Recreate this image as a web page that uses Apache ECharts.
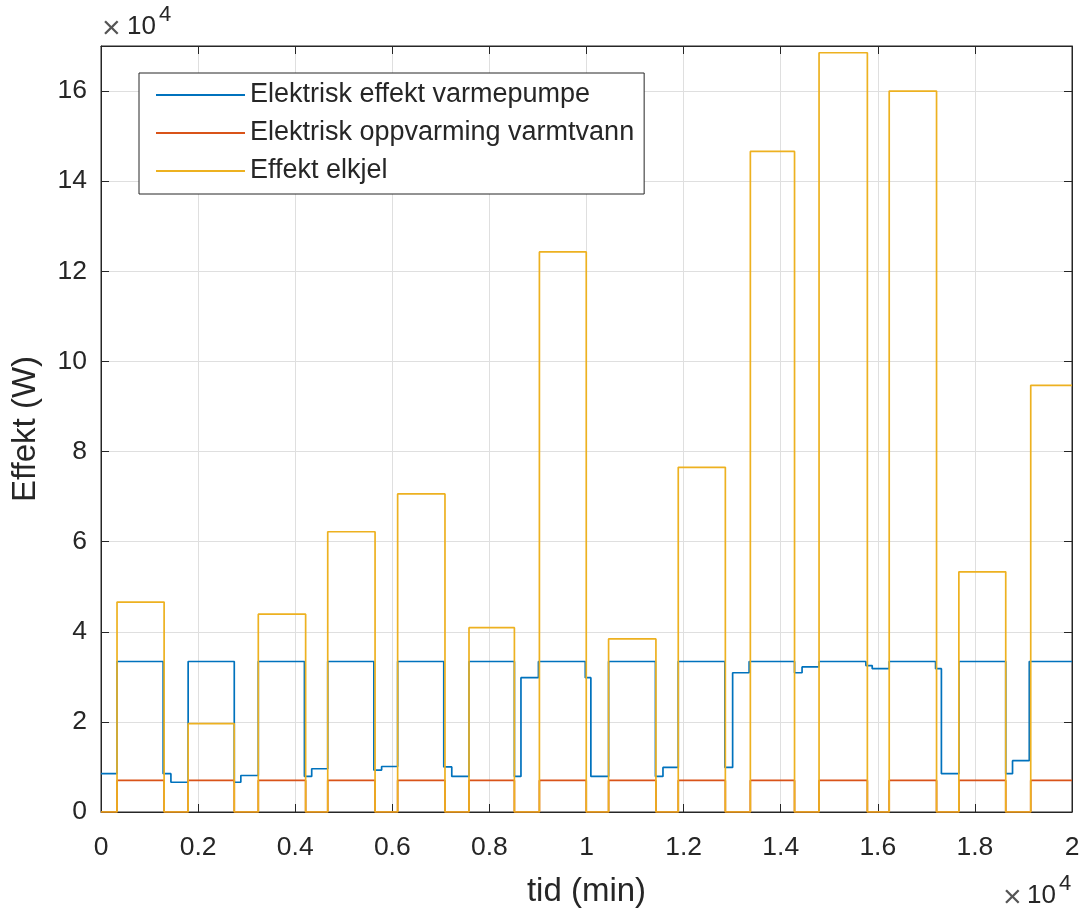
<!DOCTYPE html>
<html>
<head>
<meta charset="utf-8">
<script src="https://cdn.jsdelivr.net/npm/echarts@6/dist/echarts.min.js"></script>
<style>
html,body{margin:0;padding:0;background:#fff;}
#chart{width:1086px;height:913px;}
</style>
</head>
<body>
<div id="chart"></div>
<script>
// Series names
const seriesNames = ['Elektrisk effekt varmepumpe', 'Elektrisk oppvarming varmtvann', 'Effekt elkjel'];

// Elektrisk effekt varmepumpe (step, value holds from time to next time)
const pumpTimes = [0, 330, 1280, 1440, 1795, 2745, 2880, 3240, 4190, 4340, 4670, 5620, 5780, 6110, 7060, 7225, 7580, 8515, 8650, 9010, 9975, 10090, 10455, 11420, 11575, 11890, 12850, 13010, 13350, 14285, 14440, 14790, 15755, 15885, 16235, 17190, 17310, 17670, 18635, 18775, 19120, 20000];
const pumpValues = [8500, 33400, 8500, 6600, 33400, 6600, 8100, 33400, 7900, 9600, 33400, 9300, 10100, 33400, 10000, 7900, 33400, 7900, 29800, 33400, 29800, 7900, 33400, 7900, 9900, 33400, 9900, 30900, 33400, 30900, 32200, 33400, 32500, 31800, 33400, 31800, 8500, 33400, 8500, 11400, 33400, 33400];

// Elektrisk oppvarming varmtvann
const waterTimes = [0, 330, 1300, 1795, 2745, 3240, 4215, 4670, 5645, 6110, 7085, 7580, 8515, 9030, 9995, 10455, 11430, 11890, 12860, 13375, 14285, 14790, 15785, 16235, 17210, 17670, 18635, 19150, 20000];
const waterValues = [0, 7000, 0, 7000, 0, 7000, 0, 7000, 0, 7000, 0, 7000, 0, 7000, 0, 7000, 0, 7000, 0, 7000, 0, 7000, 0, 7000, 0, 7000, 0, 7000, 7000];

// Effekt elkjel
const boilerTimes = [0, 330, 1300, 1795, 2745, 3240, 4215, 4670, 5645, 6110, 7085, 7580, 8515, 9030, 9995, 10455, 11430, 11890, 12860, 13375, 14285, 14790, 15785, 16235, 17210, 17670, 18635, 19150, 20000];
const boilerValues = [0, 46600, 0, 19600, 0, 43900, 0, 62200, 0, 70600, 0, 40900, 0, 124300, 0, 38400, 0, 76500, 0, 146600, 0, 168500, 0, 160000, 0, 53300, 0, 94700, 94700];

// Axis settings
const xMin = 0, xMax = 20000, xStep = 2000;
const yMin = 0, yMax = 170000, yStep = 20000;
const axisScale = 10000; // labels shown as x10^4

const colors = ['#0072BD', '#D95319', '#EDB120'];
const FONT = '"Liberation Sans", Arial, Helvetica, sans-serif';
const TXT = '#262626';

function pairs(t, v) { return t.map((x, i) => [x, v[i]]); }

const chart = echarts.init(document.getElementById('chart'), null, {renderer: 'canvas'});

const gridLeft = 101, gridRight = 14, gridTop = 46, gridBottom = 100;

function fmt(v) {
  const r = Math.round(v / axisScale * 1000) / 1000;
  return String(r);
}

const option = {
  backgroundColor: '#ffffff',
  animation: false,
  textStyle: {fontFamily: FONT},
  grid: {left: gridLeft, right: gridRight, top: gridTop, bottom: gridBottom, show: true, borderColor: TXT, borderWidth: 1, backgroundColor: 'transparent'},
  legend: {
    orient: 'vertical',
    left: 139, top: 73,
    data: seriesNames,
    icon: 'rect',
    itemWidth: 89, itemHeight: 2,
    itemGap: 10,
    backgroundColor: '#ffffff',
    borderColor: TXT, borderWidth: 1,
    padding: [8, 10, 9, 17],
    textStyle: {fontSize: 27, color: TXT, fontFamily: FONT, lineHeight: 28, padding: [0, 0, 0, 0]},
    selectedMode: false
  },
  xAxis: [{
    type: 'value', min: xMin, max: xMax, interval: xStep,
    name: 'tid (min)', nameLocation: 'middle', nameGap: 63,
    nameTextStyle: {fontSize: 33, color: TXT, fontFamily: FONT},
    axisLine: {show: true, onZero: false, lineStyle: {color: TXT, width: 1}},
    axisTick: {show: true, inside: true, length: 8, lineStyle: {color: TXT}},
    axisLabel: {fontSize: 26.5, color: TXT, margin: 22, formatter: fmt, fontFamily: FONT},
    splitLine: {show: true, lineStyle: {color: '#dfdfdf', width: 1}}
  }, {
    type: 'value', min: xMin, max: xMax, interval: xStep, position: 'top',
    axisLine: {show: true, onZero: false, lineStyle: {color: TXT, width: 1}},
    axisTick: {show: true, inside: true, length: 8, lineStyle: {color: TXT}},
    axisLabel: {show: false}, splitLine: {show: false}
  }],
  yAxis: [{
    type: 'value', min: yMin, max: yMax, interval: yStep,
    name: 'Effekt (W)', nameLocation: 'middle', nameGap: 59,
    nameTextStyle: {fontSize: 33, color: TXT, fontFamily: FONT},
    axisLine: {show: true, onZero: false, lineStyle: {color: TXT, width: 1}},
    axisTick: {show: true, inside: true, length: 8, lineStyle: {color: TXT}},
    axisLabel: {fontSize: 26.5, color: TXT, margin: 14, formatter: fmt, showMaxLabel: false, fontFamily: FONT},
    splitLine: {show: true, lineStyle: {color: '#dfdfdf', width: 1}}
  }, {
    type: 'value', min: yMin, max: yMax, interval: yStep, position: 'right',
    axisLine: {show: true, onZero: false, lineStyle: {color: TXT, width: 1}},
    axisTick: {show: true, inside: true, length: 8, lineStyle: {color: TXT}},
    axisLabel: {show: false}, splitLine: {show: false}
  }],
  series: [
    {name: seriesNames[0], type: 'line', step: 'end', data: pairs(pumpTimes, pumpValues), showSymbol: false, symbol: 'none', lineStyle: {color: colors[0], width: 1.7}, itemStyle: {color: colors[0]}, z: 2},
    {name: seriesNames[1], type: 'line', step: 'end', data: pairs(waterTimes, waterValues), showSymbol: false, symbol: 'none', lineStyle: {color: colors[1], width: 1.7}, itemStyle: {color: colors[1]}, z: 3},
    {name: seriesNames[2], type: 'line', step: 'end', data: pairs(boilerTimes, boilerValues), showSymbol: false, symbol: 'none', lineStyle: {color: colors[2], width: 1.7}, itemStyle: {color: colors[2]}, z: 4}
  ],
  graphic: [
    {type: 'text', left: 102, top: 13, style: {text: '×', font: '32px ' + FONT, fill: '#555555'}},
    {type: 'text', left: 127, top: 14, style: {text: '10', font: '26px ' + FONT, fill: TXT}},
    {type: 'text', left: 159, top: 4, style: {text: '4', font: '22px ' + FONT, fill: TXT}},
    {type: 'text', left: 1003, top: 882, style: {text: '×', font: '32px ' + FONT, fill: '#555555'}},
    {type: 'text', left: 1027, top: 883, style: {text: '10', font: '26px ' + FONT, fill: TXT}},
    {type: 'text', left: 1059, top: 873, style: {text: '4', font: '22px ' + FONT, fill: TXT}}
  ]
};

chart.setOption(option);
</script>
</body>
</html>
